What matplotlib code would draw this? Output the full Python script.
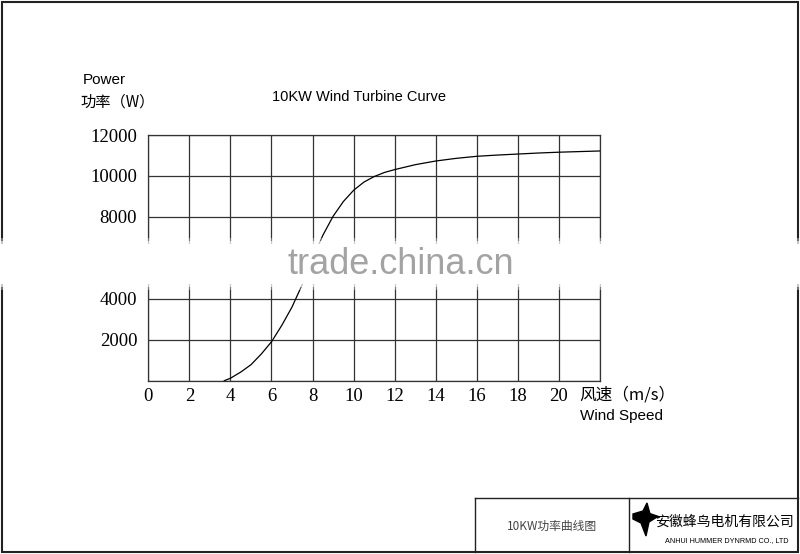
import matplotlib
matplotlib.use('Agg')
import matplotlib.pyplot as plt
from matplotlib.patches import Rectangle, Polygon
from matplotlib.lines import Line2D

plt.rcParams['font.family'] = ['Liberation Sans', 'Noto Sans CJK SC', 'DejaVu Sans']

# wind speed (m/s) and power (W)
wind = [3.7, 4.0, 4.5, 5.0, 5.5, 6.0, 6.5, 7.0, 7.5, 8.0, 8.5, 9.0, 9.5, 10.0,
        10.5, 11.0, 11.5, 12.0, 13.0, 14.0, 15.0, 16.0, 17.0, 18.0, 19.0, 20.0, 21.0, 22.0]
power = [0, 120, 420, 780, 1300, 1900, 2700, 3600, 4700, 5950, 7100, 8030, 8750, 9300,
         9700, 9970, 10170, 10310, 10550, 10730, 10860, 10960, 11020, 11070, 11120, 11160, 11190, 11220]

xticks = list(range(0, 23, 2))
xlabels = [str(v) for v in range(0, 21, 2)] + ['']
yticks = list(range(0, 12001, 2000))
ylabels = [''] + [str(v) for v in range(2000, 12001, 2000)]

W, H = 800, 554
def fx(p):
    return p / W
def fy(p):
    return 1 - p / H

fig = plt.figure(figsize=(8, 5.54), dpi=100)
fig.patch.set_facecolor('white')

ax = fig.add_axes([fx(148.3), fy(380.7), fx(600 - 148.3), (380.7 - 135) / H])
ax.plot(wind, power, color='black', lw=0.9, zorder=3)
ax.set_xlim(0, 22)
ax.set_ylim(0, 12000)
ax.set_xticks(xticks)
ax.set_xticklabels(xlabels, family='Liberation Serif', fontsize=13.5)
ax.set_yticks(yticks)
ax.set_yticklabels(ylabels, family='Liberation Serif', fontsize=13.5)
ax.tick_params(length=0)
ax.tick_params(axis='x', pad=5)
ax.tick_params(axis='y', pad=8)
ax.grid(True, color='#333333', lw=0.9)
for s in ax.spines.values():
    s.set_color('#333333')
    s.set_linewidth(0.9)

# texts
fig.text(fx(83), fy(80), 'Power', fontsize=11, va='center', ha='left')
fig.text(fx(80), fy(102), '功率（W）', fontsize=11, va='center', ha='left',
         family=['Noto Sans CJK SC', 'DejaVu Sans'])
fig.text(fx(272), fy(97), '10KW Wind Turbine Curve', fontsize=10.5, va='center', ha='left')
fig.text(fx(579), fy(395), '风速（m/s）', fontsize=12, va='center', ha='left',
         family=['Noto Sans CJK SC', 'DejaVu Sans'])
fig.text(fx(580), fy(416), 'Wind Speed', fontsize=11, va='center', ha='left')

# outer frame
fig.patches.append(Rectangle((fx(2), fy(552)), fx(796), (550) / H, transform=fig.transFigure,
                             fill=False, ec='#222222', lw=1.5, zorder=5))

# title block
for (x0, y0, x1, y1) in [(475, 498, 798, 498), (475, 498, 475, 552), (629, 498, 629, 552)]:
    fig.lines.append(Line2D([fx(x0), fx(x1)], [fy(y0), fy(y1)], transform=fig.transFigure,
                            color='#222222', lw=1.0))
fig.text(fx(552), fy(526), '10KW功率曲线图', fontsize=8.5, color='#444444', ha='center', va='center',
         family=['Noto Sans CJK SC', 'DejaVu Sans'])
fig.text(fx(724), fy(522), '安徽蜂鸟电机有限公司', fontsize=10, ha='center', va='center',
         family=['Noto Sans CJK SC', 'DejaVu Sans'])
fig.text(fx(727), fy(541), 'ANHUI HUMMER DYNRMD CO., LTD', fontsize=5.2, ha='center', va='center')

# crude bird logo
bird = [[(633, 514), (643, 511), (647, 503), (650, 514), (657, 517), (649, 522),
         (646, 536), (641, 523), (633, 519)],
        [(648, 513), (660, 517), (650, 518)]]
for shape in bird:
    fig.patches.append(Polygon([(fx(a), fy(b)) for a, b in shape], closed=True,
                               transform=fig.transFigure, color='black', zorder=6))

# watermark band
for (y0, y1, a) in [(238, 290, 0.35), (241, 287, 0.6), (244, 284, 1.0)]:
    fig.patches.append(Rectangle((0, fy(y1)), 1, (y1 - y0) / H, transform=fig.transFigure,
                                 color='white', alpha=a, lw=0, zorder=10))
fig.text(fx(401), fy(264), 'trade.china.cn', fontsize=26, color='#a3a3a3',
         ha='center', va='center', zorder=11)

fig.savefig('out.png', dpi=100)
